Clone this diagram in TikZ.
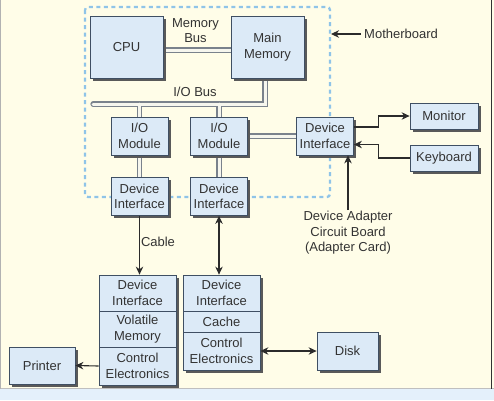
\documentclass[tikz,border=0pt]{standalone}
\usepackage{fontspec}
\setmainfont{Liberation Sans}
\usetikzlibrary{shadows,arrows.meta}
\definecolor{bg}{HTML}{FFFDE8}
\definecolor{boxfill}{HTML}{DCEAF7}
\definecolor{boxline}{HTML}{3F4F63}
\definecolor{txt}{HTML}{333333}
\definecolor{mbc}{HTML}{8FC4E8}
\definecolor{strip}{HTML}{E4F0FB}
\definecolor{arrc}{HTML}{2B2B2B}
\definecolor{busc}{HTML}{7A828C}
\definecolor{busin}{HTML}{F6F6EE}
\pgfdeclarelayer{backdrop}
\pgfdeclarelayer{buses}
\pgfsetlayers{backdrop,buses,main}
\begin{document}
\begin{tikzpicture}[x=1pt,y=-1pt,
  font=\fontsize{13}{15.5}\selectfont, text=txt,
  sec/.style={draw=boxline, fill=boxfill, line width=0.8pt, inner sep=0pt, align=center},
  box/.style={sec, drop shadow={shadow xshift=2.5pt, shadow yshift=-2.5pt, fill=black!65, opacity=1}},
  busout/.style={draw=busc, line width=5.2pt, line cap=round, line join=miter},
  businner/.style={draw=busin, line width=3pt, line cap=round, line join=miter},
  arr/.style={draw=arrc, line width=1.1pt, -{Stealth[length=8pt,width=7.5pt]}},
  darr/.style={draw=arrc, line width=1.1pt, {Stealth[length=8pt,width=7.5pt]}-{Stealth[length=8pt,width=7.5pt]}},
  lbl/.style={align=center, inner sep=1pt}]
\useasboundingbox (0,0) rectangle (494,400);
% background
\begin{pgfonlayer}{backdrop}
\fill[bg] (0,0) rectangle (494,400);
\fill[strip] (0,389) rectangle (494,400);
\draw[black!25, line width=0.8pt] (0,388.5) -- (494,388.5);
\draw[black!30, line width=1pt] (0.5,0) -- (0.5,389);
\draw[black!80, line width=1.2pt] (491.5,0) -- (491.5,389);
\draw[mbc, line width=2.3pt, dash pattern=on 4pt off 3.5pt, rounded corners=3pt] (85,7) rectangle (330,197);
\end{pgfonlayer}
\coordinate (busL) at (93,104);
\coordinate (busR) at (265,104);
% boxes
\node[box, minimum width=73pt, minimum height=62pt] (cpu) at (126.5,47) {CPU};
\node[box, minimum width=73pt, minimum height=62pt] (mm) at (267.5,47) {Main\\Memory};
\node[box, minimum width=57pt, minimum height=38pt] (iom1) at (139.5,136) {I/O\\Module};
\node[box, minimum width=57pt, minimum height=38pt] (iom2) at (219,136) {I/O\\Module};
\node[box, minimum width=57pt, minimum height=38pt] (di1) at (139.5,196.5) {Device\\Interface};
\node[box, minimum width=57pt, minimum height=38pt] (di2) at (219,196.5) {Device\\Interface};
\node[box, minimum width=57pt, minimum height=38pt] (di3) at (325,136) {Device\\Interface};
\node[box, minimum width=68pt, minimum height=26pt] (mon) at (444,116) {Monitor};
\node[box, minimum width=68pt, minimum height=26pt] (kb) at (444,158) {Keyboard};
% stack 1
\node[box, minimum width=77pt, minimum height=36pt] (s1a) at (137.5,293) {Device\\Interface};
\node[box, minimum width=77pt, minimum height=36pt] (s1b) at (137.5,329) {Volatile\\Memory};
\node[box, minimum width=77pt, minimum height=38pt] (s1c) at (137.5,366) {Control\\Electronics};
% stack 2
\node[box, minimum width=77pt, minimum height=36pt] (s2a) at (221.5,293) {Device\\Interface};
\node[box, minimum width=77pt, minimum height=21pt] (s2b) at (221.5,321.5) {Cache};
\node[box, minimum width=77pt, minimum height=38pt] (s2c) at (221.5,351) {Control\\Electronics};
\node[box, minimum width=66pt, minimum height=37pt] (prn) at (42,365.5) {Printer};
\node[box, minimum width=61pt, minimum height=38pt] (disk) at (347.5,351) {Disk};
% bus lines: outer strokes then inner strokes, behind the boxes
\begin{pgfonlayer}{buses}
\foreach \st in {busout,businner}{
  \draw[\st] ([yshift=-3pt]cpu.east) -- ([yshift=-3pt]mm.west);
  \draw[\st] (busL) -- (busR) -- (busR |- mm.south);
  \draw[\st] (iom1.north |- busL) -- (iom1.north);
  \draw[\st] (iom2.north |- busL) -- (iom2.north);
  \draw[\st] (iom1.south) -- (di1.north);
  \draw[\st] (iom2.south) -- (di2.north);
  \draw[\st] (iom2.east) -- (di3.west);
}
\end{pgfonlayer}
% labels
\node[lbl] (mbus) at (195.5,30.5) {Memory\\Bus};
\node[lbl] (iobus) at (195,92) {I/O Bus};
\node[lbl, anchor=west, inner sep=3pt] (mbl) at (361,34) {Motherboard};
\coordinate (mbr) at (331,34);
\node[lbl] (adapt) at (348,233) {Device Adapter\\Circuit Board\\(Adapter Card)};
\node[lbl] (cable) at (158,242) {Cable};
% arrows
\draw[arr] (mbl.west) -- (mbr);
\draw[arr] ([yshift=9pt]di3.east) -- ++(25,0) |- (mon.west);
\draw[arr] (kb.west) -- ++(-31,0) |- ([yshift=-8.5pt]di3.east);
\draw[arr] (adapt.north) -- (adapt.north |- di3.south);
\draw[arr] (di1.south) -- (di1.south |- s1a.north);
\draw[darr] (di2.south) -- (di2.south |- s2a.north);
\draw[arr] (s1c.west) -- (prn.east);
\draw[darr] (s2c.east) -- (disk.west);
\end{tikzpicture}
\end{document}
